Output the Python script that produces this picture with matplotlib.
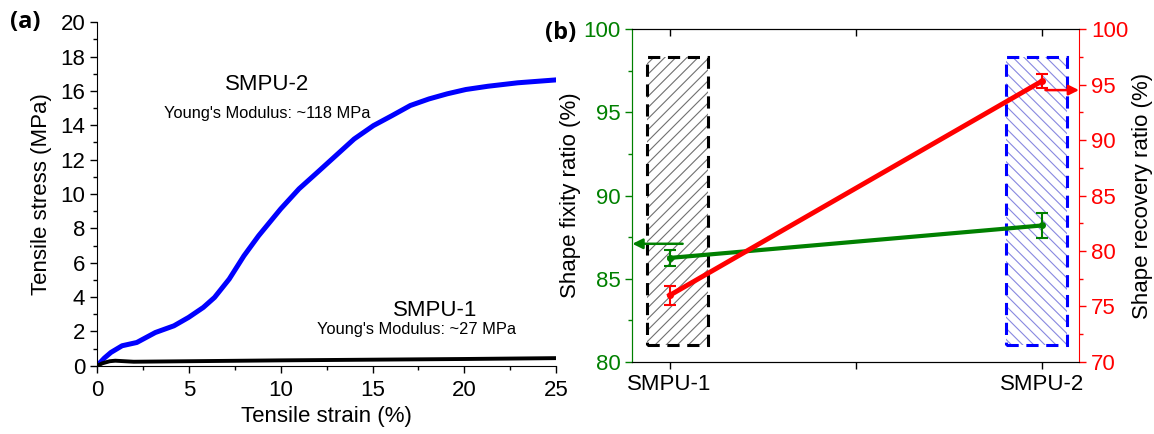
import numpy as np
import matplotlib.pyplot as plt
from matplotlib.patches import Rectangle
from matplotlib.ticker import MultipleLocator, FixedLocator

plt.rcParams['font.family'] = ['Liberation Sans', 'DejaVu Sans']
plt.rcParams['hatch.linewidth'] = 0.8

# panel (a) stress-strain curves
strain_2 = [0, 0.4, 0.76, 1.37, 2.17, 3.18, 4.19, 4.99, 5.79, 6.4, 7.2, 8.0, 8.8,
            10.0, 11.0, 12.0, 13.0, 14.0, 15.05, 16.06, 17.06, 18.07, 19.07,
            20.08, 21.29, 22.9, 25.0]
stress_2 = [0, 0.45, 0.78, 1.17, 1.36, 1.94, 2.33, 2.82, 3.4, 3.98, 5.05, 6.4, 7.57,
            9.13, 10.3, 11.26, 12.23, 13.2, 13.98, 14.56, 15.15, 15.53, 15.83,
            16.08, 16.27, 16.47, 16.64]
strain_1 = [0, 0.3, 0.7, 1.0, 1.5, 2.0, 5.0, 10.0, 15.0, 20.0, 25.0]
stress_1 = [0, 0.15, 0.27, 0.3, 0.27, 0.24, 0.27, 0.32, 0.36, 0.4, 0.45]

# panel (b) shape memory data
samples = ['SMPU-1', 'SMPU-2']
fixity = [86.25, 88.2]
fixity_err = [0.5, 0.75]
recovery = [76.0, 95.3]
recovery_err = [0.85, 0.65]

green = '#008000'
red = '#ff0000'
fs = 16

fig = plt.figure(figsize=(11.54, 4.34), dpi=100)

# ---------- (a) ----------
ax = fig.add_axes([0.084, 0.157, 0.398, 0.792])
ax.plot(strain_2, stress_2, color='#0000ff', lw=3.6, solid_capstyle='round')
ax.plot(strain_1, stress_1, color='black', lw=2.8)
ax.set_xlim(0, 25)
ax.set_ylim(0, 20)
ax.spines['top'].set_visible(False)
ax.spines['right'].set_visible(False)
ax.xaxis.set_major_locator(MultipleLocator(5))
ax.xaxis.set_minor_locator(MultipleLocator(2.5))
ax.yaxis.set_major_locator(MultipleLocator(2))
ax.yaxis.set_minor_locator(MultipleLocator(1))
ax.tick_params(which='major', length=5, width=1, labelsize=fs)
ax.tick_params(axis='x', which='major', pad=5)
ax.tick_params(which='minor', length=3, width=1)
ax.set_xlabel('Tensile strain (%)', fontsize=fs, labelpad=4)
ax.set_ylabel('Tensile stress (MPa)', fontsize=fs, labelpad=6)
ax.text(9.26, 16.35, 'SMPU-2', fontsize=fs, ha='center', va='center')
ax.text(9.28, 14.66, "Young's Modulus: ~118 MPa", fontsize=11.8, ha='center', va='center')
ax.text(18.4, 3.2, 'SMPU-1', fontsize=fs, ha='center', va='center')
ax.text(17.4, 2.14, "Young's Modulus: ~27 MPa", fontsize=11.8, ha='center', va='center')
fig.text(0.022, 0.95, '(a)', fontsize=17, fontweight='bold', family='Open Sans',
         ha='center', va='center')

# ---------- (b) ----------
bx = fig.add_axes([0.548, 0.166, 0.387, 0.767])
bx2 = bx.twinx()
x = np.arange(1, len(samples) + 1)

# hatched boxes behind the data
boxes = [(0.94, 0.162, '#707070', 'black', '///'),
         (1.903, 0.164, '#8888e0', '#0000ff', '\\\\\\')]
for x0, w, hc, ec, hatch in boxes:
    bx.add_patch(Rectangle((x0, 81.0), w, 17.3, facecolor='none', edgecolor=hc,
                           hatch=hatch, lw=0, zorder=1))
    bx.add_patch(Rectangle((x0, 81.0), w, 17.3, fill=False, edgecolor=ec,
                           lw=2.2, ls=(0, (4, 2.5)), zorder=2))

bx.errorbar(x, fixity, yerr=fixity_err, color=green, lw=3, marker='o', ms=4,
            capsize=4, elinewidth=1.5, capthick=1.5, zorder=3)
bx2.errorbar(x, recovery, yerr=recovery_err, color=red, lw=3.5, marker='o', ms=4,
             capsize=4, elinewidth=1.5, capthick=1.5, zorder=3)

bx.annotate('', xy=(0.9, 87.1), xytext=(1.035, 87.1),
            arrowprops=dict(arrowstyle='-|>', color=green, lw=1.8,
                            mutation_scale=15, shrinkA=0, shrinkB=0))
bx2.annotate('', xy=(2.1, 94.5), xytext=(2.01, 94.5),
             arrowprops=dict(arrowstyle='-|>', color=red, lw=1.8,
                             mutation_scale=15, shrinkA=0, shrinkB=0))

bx.set_xlim(0.9, 2.1)
bx.set_ylim(80, 100)
bx2.set_ylim(70, 100)
bx.xaxis.set_major_locator(FixedLocator([1, 1.5, 2]))
bx.set_xticklabels([samples[0], '', samples[1]])
bx.yaxis.set_major_locator(MultipleLocator(5))
bx.yaxis.set_minor_locator(MultipleLocator(2.5))
bx2.yaxis.set_major_locator(MultipleLocator(5))
bx2.yaxis.set_minor_locator(MultipleLocator(2.5))

bx.tick_params(axis='x', which='major', length=5, width=1, labelsize=fs,
               top=False, direction='out')
bx.tick_params(axis='y', which='major', length=5, width=1, labelsize=fs,
               colors=green)
bx.tick_params(axis='y', which='minor', length=3, width=1, colors=green)
bx2.tick_params(axis='y', which='major', length=5, width=1, labelsize=fs,
                colors=red)
bx2.tick_params(axis='y', which='minor', length=3, width=1, colors=red)
bx.spines['left'].set_color(green)
bx2.spines['left'].set_color(green)
bx2.spines['right'].set_color(red)
bx.spines['right'].set_visible(False)
bx.set_ylabel('Shape fixity ratio (%)', fontsize=fs, labelpad=2)
bx2.set_ylabel('Shape recovery ratio (%)', fontsize=fs, labelpad=3)
fig.text(0.486, 0.925, '(b)', fontsize=17, fontweight='bold', family='Open Sans',
         ha='center', va='center')

# top ticks pointing inward
top = bx.secondary_xaxis('top')
top.set_xticks([1, 1.5, 2])
top.set_xticklabels([])
top.tick_params(direction='in', length=5, width=1)
top.spines['top'].set_visible(False)

fig.savefig('out.png', dpi=100)
